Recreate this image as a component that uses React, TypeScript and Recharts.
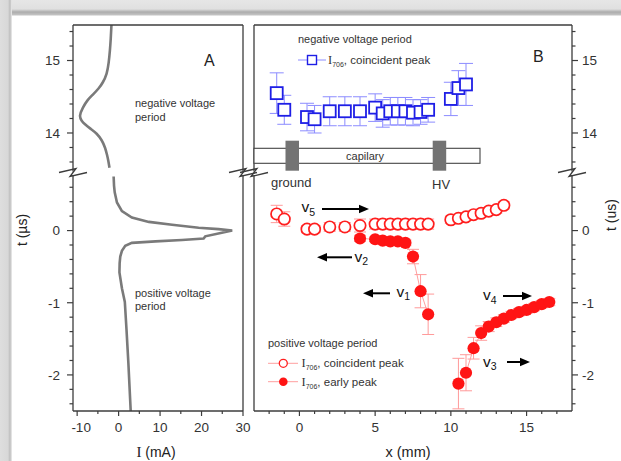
import React from 'react';
import { ComposedChart, Scatter, Line, XAxis, YAxis, ErrorBar } from 'recharts';

const W = 621;
const H = 461;
const FONT = '"Liberation Sans", Arial, Helvetica, sans-serif';
const SERIF = '"Liberation Serif", "Times New Roman", serif';
const AX = '#3c3c3c';

// ---------- Panel A: current trace (I in mA, t in µs) ----------
const curveTopI = [-1.7, -1.9, -2.1, -2.4, -2.9, -3.8, -4.9, -6.2, -7.5, -8.6, -9.3, -8.9, -8.1, -6.8, -5.3, -4.1, -3.3, -2.8, -2.5, -2.2];
const curveTopT = [15.52, 15.3, 15.14, 14.97, 14.82, 14.7, 14.61, 14.53, 14.45, 14.35, 14.24, 14.17, 14.12, 14.06, 13.99, 13.9, 13.8, 13.7, 13.62, 13.52];
const curveBotI = [-1.2, -1.1, -0.94, -0.4, 0.8, 3.2, 7.3, 12.9, 19.3, 24.1, 27.4, 24.9, 20.9, 20.5, 15.3, 8.9, 3.2, 1.6, 0.8, 0.4, 0.25, 0.2, 0.8, 1.5, 1.9, 2.35, 2.9, 3.0];
const curveBotT = [0.75, 0.62, 0.53, 0.39, 0.27, 0.18, 0.12, 0.08, 0.04, 0.02, 0.0, -0.03, -0.08, -0.11, -0.13, -0.15, -0.17, -0.21, -0.28, -0.36, -0.45, -0.58, -0.8, -0.99, -1.37, -1.83, -2.48, -2.55];

// ---------- Panel B: negative voltage period, coincident peak ----------
const negX = [-1.5, -1, 0.5, 1, 2, 3, 4, 5, 5.5, 6, 6.5, 7, 7.5, 8, 8.5, 10, 10.5, 11];
const negT = [14.55, 14.32, 14.22, 14.19, 14.3, 14.3, 14.3, 14.35, 14.27, 14.3, 14.3, 14.3, 14.28, 14.29, 14.32, 14.47, 14.62, 14.67];
const negErr = [0.28, 0.2, 0.19, 0.19, 0.2, 0.2, 0.2, 0.19, 0.19, 0.19, 0.19, 0.19, 0.18, 0.17, 0.17, 0.23, 0.24, 0.29];

// ---------- Panel B: positive voltage period, coincident peak ----------
const posCX = [-1.5, -1, 0.5, 1, 2, 3, 4, 5, 5.5, 6, 6.5, 7, 7.5, 8, 8.5, 10, 10.5, 11, 11.5, 12, 12.5, 13, 13.5];
const posCT = [0.23, 0.16, 0.02, 0.02, 0.05, 0.05, 0.07, 0.09, 0.09, 0.09, 0.09, 0.09, 0.09, 0.09, 0.09, 0.15, 0.17, 0.19, 0.22, 0.24, 0.27, 0.29, 0.35];
const posCErr = [0.12, 0.1, 0.05, 0.05, 0.06, 0.06, 0.09, 0.07, 0.07, 0.07, 0.07, 0.07, 0.07, 0.07, 0.07, 0.05, 0.05, 0.05, 0.05, 0.05, 0.05, 0.05, 0.05];

// ---------- Panel B: positive voltage period, early peak ----------
const posE1X = [4, 5, 5.5, 6, 6.5, 7, 7.5, 8, 8.5];
const posE1T = [-0.11, -0.12, -0.14, -0.15, -0.15, -0.17, -0.36, -0.84, -1.16];
const posE1Err = [0.04, 0.03, 0.03, 0.03, 0.03, 0.04, 0.1, 0.23, 0.28];
const posE2X = [10.5, 11, 11.5, 12, 12.5, 13, 13.5, 14, 14.5, 15, 15.5, 16, 16.5];
const posE2T = [-2.12, -1.97, -1.63, -1.42, -1.33, -1.27, -1.22, -1.17, -1.13, -1.1, -1.06, -1.02, -0.99];
const posE2Err = [0.35, 0.25, 0.15, 0.1, 0.07, 0.06, 0.05, 0.05, 0.05, 0.05, 0.05, 0.05, 0.05];

// ---------- ticks ----------
const tTopTicks = [13.6, 13.8, 14, 14.2, 14.4, 14.6, 14.8, 15, 15.2, 15.4];
const tBotTicks = [-2.4, -2.2, -2, -1.8, -1.6, -1.4, -1.2, -1, -0.8, -0.6, -0.4, -0.2, 0, 0.2, 0.4, 0.6];
const iTicks = [-10, -5, 0, 5, 10, 15, 20, 25, 30];
const xTicks = [-2, -1, 0, 1, 2, 3, 4, 5, 6, 7, 8, 9, 10, 11, 12, 13, 14, 15, 16, 17];

const iDomain: [number, number] = [-11, 30];
const xDomain: [number, number] = [-3, 18];
const topDomain: [number, number] = [13.47, 15.49];
const botDomain: [number, number] = [-2.5, 0.77];

const zipIT = (I: number[], T: number[]) => I.map((v, i) => ({ I: v, t: T[i] }));
const zipXY = (X: number[], Y: number[], E: number[]) => X.map((v, i) => ({ x: v, y: Y[i], e: E[i] }));

const curveTop = zipIT(curveTopI, curveTopT);
const curveBot = zipIT(curveBotI, curveBotT);
const negData = zipXY(negX, negT, negErr);
const posCData = zipXY(posCX, posCT, posCErr);
const posE1Data = zipXY(posE1X, posE1T, posE1Err);
const posE2Data = zipXY(posE2X, posE2T, posE2Err);

const isInt = (v: number) => Math.abs(v - Math.round(v)) < 1e-6;
const axisLine = { stroke: AX, strokeWidth: 1.3 };

const LeftTick = (p: any) => {
  const { x, y, payload } = p;
  const major = isInt(payload.value);
  return (
    <g>
      <line x1={x} x2={x - (major ? 6 : 3.5)} y1={y} y2={y} stroke={AX} strokeWidth={1.2} />
      {major && (
        <text x={x - 13} y={y} dy="0.36em" textAnchor="end" fontSize={13.5} fill="#333" fontFamily={FONT}>
          {String(payload.value)}
        </text>
      )}
    </g>
  );
};

const RightTick = (p: any) => {
  const { x, y, payload } = p;
  const major = isInt(payload.value);
  return (
    <g>
      <line x1={x} x2={x + (major ? 6 : 3.5)} y1={y} y2={y} stroke={AX} strokeWidth={1.2} />
      {major && (
        <text x={x + 10} y={y} dy="0.36em" textAnchor="start" fontSize={13.5} fill="#333" fontFamily={FONT}>
          {String(payload.value)}
        </text>
      )}
    </g>
  );
};

const makeBottomTick = (step: number) => (p: any) => {
  const { x, y, payload } = p;
  const v = payload.value;
  const major = v % step === 0;
  return (
    <g>
      <line x1={x} x2={x} y1={y} y2={y + (major ? 5 : 3)} stroke={AX} strokeWidth={1.2} />
      {major && (
        <text x={x + (v < 0 ? 4 : 0)} y={y + 21} textAnchor="middle" fontSize={13.5} fill="#333" fontFamily={FONT}>
          {String(v)}
        </text>
      )}
    </g>
  );
};
const ITick = makeBottomTick(10);
const XTick = makeBottomTick(5);

// axes are 1px wide/high (a zero-size axis is not drawn), margins compensate for that
const mg = (l: number, r: number, t: number, b: number) => ({ left: l - 1, right: W - r - 1, top: t - 1, bottom: H - b - 1 });
const A_L = 73, A_R = 243, B_L = 254, B_R = 572, TOP = 25, BRK1 = 170.4, BRK2 = 176, BOT = 411;

const layer: React.CSSProperties = { position: 'absolute', left: 0, top: 0, width: W, height: H, pointerEvents: 'none' };

const Square = (p: any) => (
  <rect x={p.cx - 6} y={p.cy - 6} width={12} height={12} fill="#fff" stroke="#1e1ee6" strokeWidth={1.8} />
);
const OpenCircle = (p: any) => <circle cx={p.cx} cy={p.cy} r={5.7} fill="#fff" stroke="#ff1e1e" strokeWidth={1.7} />;
const FullCircle = (p: any) => <circle cx={p.cx} cy={p.cy} r={6.1} fill="#ff1414" />;

const Arrow = ({ x1, x2, y }: { x1: number; x2: number; y: number }) => {
  const d = Math.sign(x2 - x1);
  return (
    <g>
      <line x1={x1} y1={y} x2={x2 - d * 6} y2={y} stroke="#000" strokeWidth={2} />
      <polygon points={`${x2},${y} ${x2 - d * 10},${y - 4.2} ${x2 - d * 10},${y + 4.2}`} fill="#000" />
    </g>
  );
};

const VLabel = ({ x, y, sub }: { x: number; y: number; sub: string }) => (
  <text x={x} y={y} fontSize={15.5} fontFamily={FONT} fill="#111">
    v<tspan fontSize={10.5} dy={3.5}>{sub}</tspan>
  </text>
);

const Break = ({ ax }: { ax: number }) => (
  <polyline
    points={`${ax - 14},${172.5} ${ax + 3},${168.5} ${ax - 3},${176.5} ${ax + 14},${172.5}`}
    fill="none"
    stroke={AX}
    strokeWidth={1.3}
  />
);

const IText = ({ x, y, rest }: { x: number; y: number; rest: string }) => (
  <text x={x} y={y} fontSize={11.5} fontFamily={FONT} fill="#333">
    <tspan fontFamily={SERIF} fontSize={12.5}>I</tspan>
    <tspan fontSize={7} dy={3}>706</tspan>
    <tspan dy={-3}>{rest}</tspan>
  </text>
);

export default function App() {
  return (
    <div style={{ position: 'absolute', left: 0, top: 0, width: W, height: H, background: '#fff', overflow: 'hidden' }}>
      <div style={{ position: 'absolute', left: 0, top: 0, width: W, height: 16, background: 'linear-gradient(#e6e6e6 0px, #e0e0e0 9px, #acacac 12px, #c4c4c4 15px, #ffffff 16px)' }} />
      <div style={{ position: 'absolute', left: 0, top: 0, width: 12, height: H, background: 'linear-gradient(to right, #dedede 0px, #d8d8d8 8px, #bdbdbd 10px, #eeeeee 12px)' }} />

      {/* Panel A, upper (negative voltage period) */}
      <div style={layer}>
        <ComposedChart width={W} height={H} margin={mg(A_L, A_R, TOP, BRK1)}>
          <XAxis xAxisId="x" type="number" dataKey="I" domain={iDomain} allowDataOverflow orientation="top" height={1} tick={false} tickLine={false} axisLine={axisLine} />
          <YAxis yAxisId="l" type="number" domain={topDomain} allowDataOverflow width={1} ticks={tTopTicks} interval={0} tickSize={0} tickMargin={0} tickLine={false} tick={(p: any) => <LeftTick {...p} />} axisLine={axisLine} />
          <YAxis yAxisId="r" orientation="right" type="number" domain={topDomain} allowDataOverflow width={1} tick={false} tickLine={false} axisLine={axisLine} />
          <Line xAxisId="x" yAxisId="l" data={curveTop} dataKey="t" type="natural" stroke="#7a7a7a" strokeWidth={2.6} dot={false} activeDot={false} isAnimationActive={false} />
        </ComposedChart>
      </div>

      {/* Panel A, lower (positive voltage period) */}
      <div style={layer}>
        <ComposedChart width={W} height={H} margin={mg(A_L, A_R, BRK2, BOT)}>
          <XAxis xAxisId="x" type="number" dataKey="I" domain={iDomain} allowDataOverflow orientation="bottom" height={1} ticks={iTicks} interval={0} tickSize={0} tickMargin={0} tickLine={false} tick={(p: any) => <ITick {...p} />} axisLine={axisLine} />
          <YAxis yAxisId="l" type="number" domain={botDomain} allowDataOverflow width={1} ticks={tBotTicks} interval={0} tickSize={0} tickMargin={0} tickLine={false} tick={(p: any) => <LeftTick {...p} />} axisLine={axisLine} />
          <YAxis yAxisId="r" orientation="right" type="number" domain={botDomain} allowDataOverflow width={1} tick={false} tickLine={false} axisLine={axisLine} />
          <Line xAxisId="x" yAxisId="l" data={curveBot} dataKey="t" type="linear" stroke="#7a7a7a" strokeWidth={2.6} dot={false} activeDot={false} isAnimationActive={false} />
        </ComposedChart>
      </div>

      {/* Panel B, upper */}
      <div style={layer}>
        <ComposedChart width={W} height={H} margin={mg(B_L, B_R, TOP, BRK1)}>
          <XAxis xAxisId="x" type="number" dataKey="x" domain={xDomain} allowDataOverflow orientation="top" height={1} tick={false} tickLine={false} axisLine={axisLine} />
          <YAxis yAxisId="l" type="number" dataKey="y" domain={topDomain} allowDataOverflow width={1} tick={false} tickLine={false} axisLine={axisLine} />
          <YAxis yAxisId="r" orientation="right" type="number" domain={topDomain} allowDataOverflow width={1} ticks={tTopTicks} interval={0} tickSize={0} tickMargin={0} tickLine={false} tick={(p: any) => <RightTick {...p} />} axisLine={axisLine} />
          <Scatter xAxisId="x" yAxisId="l" data={negData} shape={(p: any) => <Square {...p} />} isAnimationActive={false}>
            <ErrorBar dataKey="e" direction="y" width={7} stroke="#8c8cff" strokeWidth={1} />
          </Scatter>
        </ComposedChart>
      </div>

      {/* Panel B, lower */}
      <div style={layer}>
        <ComposedChart width={W} height={H} margin={mg(B_L, B_R, BRK2, BOT)}>
          <XAxis xAxisId="x" type="number" dataKey="x" domain={xDomain} allowDataOverflow orientation="bottom" height={1} ticks={xTicks} interval={0} tickSize={0} tickMargin={0} tickLine={false} tick={(p: any) => <XTick {...p} />} axisLine={axisLine} />
          <YAxis yAxisId="l" type="number" dataKey="y" domain={botDomain} allowDataOverflow width={1} tick={false} tickLine={false} axisLine={axisLine} />
          <YAxis yAxisId="r" orientation="right" type="number" domain={botDomain} allowDataOverflow width={1} ticks={tBotTicks} interval={0} tickSize={0} tickMargin={0} tickLine={false} tick={(p: any) => <RightTick {...p} />} axisLine={axisLine} />
          <Scatter xAxisId="x" yAxisId="l" data={posCData} shape={(p: any) => <OpenCircle {...p} />} isAnimationActive={false}>
            <ErrorBar dataKey="e" direction="y" width={6} stroke="#ff9a9a" strokeWidth={1} />
          </Scatter>
          <Scatter xAxisId="x" yAxisId="l" data={posE1Data} line={{ stroke: '#ff9f9f', strokeWidth: 1 }} lineType="joint" shape={(p: any) => <FullCircle {...p} />} isAnimationActive={false}>
            <ErrorBar dataKey="e" direction="y" width={6} stroke="#ff9a9a" strokeWidth={1} />
          </Scatter>
          <Scatter xAxisId="x" yAxisId="l" data={posE2Data} line={{ stroke: '#ff9f9f', strokeWidth: 1 }} lineType="joint" shape={(p: any) => <FullCircle {...p} />} isAnimationActive={false}>
            <ErrorBar dataKey="e" direction="y" width={6} stroke="#ff9a9a" strokeWidth={1} />
          </Scatter>
        </ComposedChart>
      </div>

      {/* annotations */}
      <svg width={W} height={H} style={{ position: 'absolute', left: 0, top: 0, pointerEvents: 'none' }}>
        <Break ax={A_L} />
        <Break ax={A_R} />
        <Break ax={B_L} />
        <Break ax={B_R} />

        <text x={204} y={66} fontSize={16} fontFamily={FONT} fill="#222">A</text>
        <text x={533} y={62} fontSize={16} fontFamily={FONT} fill="#222">B</text>

        <text x={135} y={107} fontSize={11} fontFamily={FONT} fill="#333">negative voltage</text>
        <text x={135} y={120.5} fontSize={11} fontFamily={FONT} fill="#333">period</text>
        <text x={135} y={296.5} fontSize={11} fontFamily={FONT} fill="#333">positive voltage</text>
        <text x={135} y={310} fontSize={11} fontFamily={FONT} fill="#333">period</text>

        <text x={298} y={43} fontSize={11} fontFamily={FONT} fill="#333">negative voltage period</text>
        <line x1={298} x2={326} y1={60} y2={60} stroke="#8c8cff" strokeWidth={1} />
        <rect x={307.5} y={55.5} width={9} height={9} fill="#fff" stroke="#1e1ee6" strokeWidth={1.4} />
        <IText x={328} y={64} rest=", coincident peak" />

        <rect x={254} y={148.3} width={226} height={15} fill="#fff" stroke="#444" strokeWidth={1.1} />
        <text x={365} y={159.5} fontSize={11} textAnchor="middle" fontFamily={FONT} fill="#333">capilary</text>
        <rect x={285.5} y={140.7} width={13.5} height={30} fill="#737373" />
        <rect x={432.7} y={140.7} width={13.5} height={30} fill="#737373" />
        <text x={271} y={186.5} fontSize={13} fontFamily={FONT} fill="#333">ground</text>
        <text x={432} y={188.5} fontSize={13} fontFamily={FONT} fill="#333">HV</text>

        <VLabel x={301.5} y={212} sub="5" />
        <Arrow x1={322} x2={369} y={209} />
        <Arrow x1={352} x2={317} y={257.3} />
        <VLabel x={354.5} y={261.5} sub="2" />
        <Arrow x1={390} x2={363} y={293.3} />
        <VLabel x={396.5} y={296.5} sub="1" />
        <VLabel x={483} y={300} sub="4" />
        <Arrow x1={503} x2={532} y={296} />
        <VLabel x={483} y={366.5} sub="3" />
        <Arrow x1={507} x2={530} y={362} />

        <text x={268} y={346.5} fontSize={11} fontFamily={FONT} fill="#333">positive voltage period</text>
        <line x1={268} x2={298} y1={363.3} y2={363.3} stroke="#ff9f9f" strokeWidth={1} />
        <circle cx={283.3} cy={363.3} r={4} fill="#fff" stroke="#ff1e1e" strokeWidth={1.3} />
        <IText x={301.5} y={367.3} rest=", coincident peak" />
        <line x1={268} x2={298} y1={381.7} y2={381.7} stroke="#ff9f9f" strokeWidth={1} />
        <circle cx={283.3} cy={381.7} r={4.3} fill="#ff1414" />
        <IText x={301.5} y={385.7} rest=", early peak" />

        <text x={156} y={457} fontSize={14} textAnchor="middle" fontFamily={FONT} fill="#222">
          <tspan fontFamily={SERIF} fontSize={15}>I</tspan> (mA)
        </text>
        <text x={408} y={457} fontSize={14.5} textAnchor="middle" fontFamily={FONT} fill="#222">x (mm)</text>
        <text x={22} y={230} fontSize={14} textAnchor="middle" dy="0.35em" fontFamily={FONT} fill="#222" transform="rotate(-90 22 230)">t (µs)</text>
        <text x={611} y={215} fontSize={14} textAnchor="middle" dy="0.35em" fontFamily={FONT} fill="#222" transform="rotate(-90 611 215)">t (us)</text>
      </svg>
    </div>
  );
}
